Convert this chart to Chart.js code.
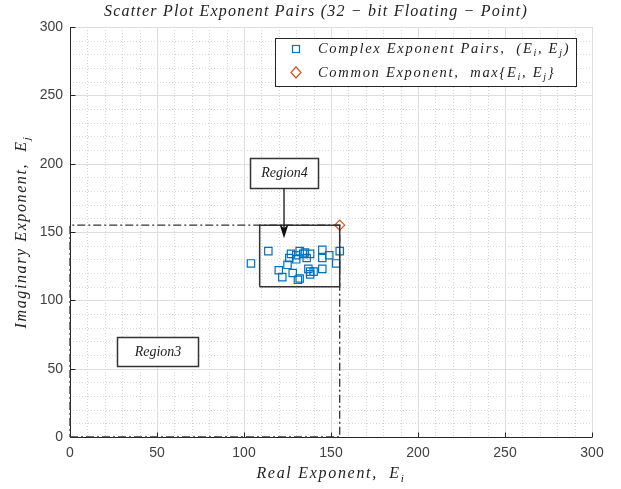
<!DOCTYPE html>
<html>
<head>
<meta charset="utf-8">
<script src="https://cdn.jsdelivr.net/npm/chart.js@4.4.0/dist/chart.umd.min.js"></script>
<style>
body { margin: 0; background: #fff; }
#wrap { width: 621px; height: 489px; }
</style>
</head>
<body>
<div id="wrap"><canvas id="plot" width="621" height="489"></canvas></div>
<script>
// exponent pairs
var realExp = [104, 114, 120, 122, 125, 126, 127, 128, 130, 130, 132, 132, 131, 134, 135, 136, 137, 138, 138, 138, 140, 145, 145, 145, 149, 153, 155];
var imagExp = [127, 136, 122, 117, 126, 131, 134, 120, 133, 130, 136, 116, 115, 134, 135, 131, 123, 121, 134, 119, 121, 137, 131, 123, 133, 127, 136];
var commonReal = [155];
var commonImag = [155];

// region outlines
var region3X = [0, 155, 155, 0, 0];
var region3Y = [0, 0, 155, 155, 0];
var region4X = [109, 155, 155, 109, 109];
var region4Y = [110, 110, 155, 155, 110];

var xTickLabels = [0, 50, 100, 150, 200, 250, 300];
var yTickLabels = [0, 50, 100, 150, 200, 250, 300];

var serif = '"Liberation Serif", "DejaVu Serif", serif';

function toPoints(xs, ys) {
    return xs.map((x, i) => ({ x: x, y: ys[i] }));
}

// latex-ish text: parts = [[text, isSub], ...], sp = extra space per glyph
function drawRich(ctx, parts, x, y, size, align, sp) {
    sp = sp || 0;
    var w = 0;
    parts.forEach(p => {
        ctx.font = 'italic ' + (p[1] ? size * 0.7 : size) + 'px ' + serif;
        for (var ch of p[0]) w += ctx.measureText(ch).width + sp;
    });
    var cx = align === 'center' ? x - w / 2 : x;
    ctx.textAlign = 'left';
    ctx.textBaseline = 'middle';
    parts.forEach(p => {
        ctx.font = 'italic ' + (p[1] ? size * 0.7 : size) + 'px ' + serif;
        for (var ch of p[0]) {
            ctx.fillText(ch, cx, y + (p[1] ? size * 0.3 : 0));
            cx += ctx.measureText(ch).width + sp;
        }
    });
}

function labelBox(ctx, xs, ys, x0, x1, y0, y1, text) {
    var l = Math.round(xs.getPixelForValue(x0)) + 0.5;
    var r = Math.round(xs.getPixelForValue(x1)) + 0.5;
    var t = Math.round(ys.getPixelForValue(y1)) + 0.5;
    var b = Math.round(ys.getPixelForValue(y0)) + 0.5;
    ctx.fillStyle = '#fff';
    ctx.fillRect(l, t, r - l, b - t);
    ctx.strokeStyle = '#333';
    ctx.lineWidth = 1.5;
    ctx.strokeRect(l, t, r - l, b - t);
    ctx.fillStyle = '#222';
    drawRich(ctx, [[text, false]], (l + r) / 2, (t + b) / 2, 14, 'center');
}

var matlabLook = {
    id: 'matlabLook',
    beforeDatasetsDraw(chart) {
        var ctx = chart.ctx, a = chart.chartArea;
        var xs = chart.scales.x, ys = chart.scales.y;
        ctx.save();
        ctx.lineWidth = 1;
        xs.ticks.forEach(t => {
            var px = Math.round(xs.getPixelForValue(t.value)) + 0.5;
            var major = t.value % 50 === 0;
            ctx.strokeStyle = major ? '#dedede' : '#d6d6d6';
            ctx.setLineDash(major ? [] : [1, 2]);
            ctx.beginPath(); ctx.moveTo(px, a.top); ctx.lineTo(px, a.bottom); ctx.stroke();
        });
        ys.ticks.forEach(t => {
            var py = Math.round(ys.getPixelForValue(t.value)) + 0.5;
            var major = t.value % 50 === 0;
            ctx.strokeStyle = major ? '#dedede' : '#d6d6d6';
            ctx.setLineDash(major ? [] : [1, 2]);
            ctx.beginPath(); ctx.moveTo(a.left, py); ctx.lineTo(a.right, py); ctx.stroke();
        });
        ctx.setLineDash([]);
        // axis lines and inward ticks
        ctx.strokeStyle = '#262626';
        var left = Math.round(a.left) + 0.5, bottom = Math.round(a.bottom) + 0.5;
        ctx.beginPath();
        ctx.moveTo(left, a.top); ctx.lineTo(left, bottom); ctx.lineTo(a.right, bottom);
        xTickLabels.forEach(v => {
            var px = Math.round(xs.getPixelForValue(v)) + 0.5;
            ctx.moveTo(px, bottom); ctx.lineTo(px, bottom - 5);
        });
        yTickLabels.forEach(v => {
            var py = Math.round(ys.getPixelForValue(v)) + 0.5;
            ctx.moveTo(left, py); ctx.lineTo(left + 5, py);
        });
        ctx.stroke();
        ctx.restore();
    },
    afterDatasetsDraw(chart) {
        var ctx = chart.ctx;
        var xs = chart.scales.x, ys = chart.scales.y;
        ctx.save();
        labelBox(ctx, xs, ys, 27, 73.5, 52, 73, 'Region3');
        labelBox(ctx, xs, ys, 103.5, 142.5, 182, 204, 'Region4');
        // arrow into region 4
        var ax = xs.getPixelForValue(123);
        var ay0 = ys.getPixelForValue(182), ay1 = ys.getPixelForValue(145.5);
        ctx.strokeStyle = '#111';
        ctx.fillStyle = '#111';
        ctx.lineWidth = 1.3;
        ctx.beginPath(); ctx.moveTo(ax, ay0); ctx.lineTo(ax, ay1 - 8); ctx.stroke();
        ctx.beginPath();
        ctx.moveTo(ax, ay1); ctx.lineTo(ax - 4.5, ay1 - 14); ctx.lineTo(ax, ay1 - 10); ctx.lineTo(ax + 4.5, ay1 - 14);
        ctx.closePath(); ctx.fill();
        ctx.restore();
    },
    afterDraw(chart) {
        var ctx = chart.ctx, a = chart.chartArea;
        var mid = (a.left + a.right) / 2;
        ctx.save();
        ctx.fillStyle = '#222';
        drawRich(ctx, [['Scatter Plot Exponent Pairs (32 \u2212 bit Floating \u2212 Point)', false]], mid - 15, 12, 16, 'center', 1.2);
        drawRich(ctx, [['Real Exponent,  E', false], ['i', true]], mid, 474, 16, 'center', 1.7);
        ctx.translate(22, (a.top + a.bottom) / 2);
        ctx.rotate(-Math.PI / 2);
        drawRich(ctx, [['Imaginary Exponent,  E', false], ['j', true]], 0, 0, 16, 'center', 1.6);
        ctx.restore();

        // legend box
        ctx.save();
        var lx = 275.5, ly = 38.5, lw = 301, lh = 48;
        ctx.fillStyle = '#fff';
        ctx.fillRect(lx, ly, lw, lh);
        ctx.strokeStyle = '#262626';
        ctx.lineWidth = 1;
        ctx.strokeRect(lx, ly, lw, lh);
        ctx.lineWidth = 1.2;
        ctx.strokeStyle = '#0072BD';
        ctx.strokeRect(292.5, 45.5, 7, 7);
        ctx.strokeStyle = '#D95319';
        ctx.beginPath();
        ctx.moveTo(296, 67); ctx.lineTo(301, 72.5); ctx.lineTo(296, 78); ctx.lineTo(291, 72.5); ctx.closePath();
        ctx.stroke();
        ctx.fillStyle = '#222';
        drawRich(ctx, [['Complex Exponent Pairs,  (E', false], ['i', true], [', E', false], ['j', true], [')', false]], 318, 49, 14.5, 'left', 1.7);
        drawRich(ctx, [['Common Exponent,  max{E', false], ['i', true], [', E', false], ['j', true], ['}', false]], 318, 73, 14.5, 'left', 1.7);
        ctx.restore();
    }
};

var ctx = document.getElementById('plot').getContext('2d');
var chart = new Chart(ctx, {
    type: 'scatter',
    data: {
        datasets: [{
            label: 'Region3',
            data: toPoints(region3X, region3Y),
            showLine: true,
            borderColor: '#333',
            borderWidth: 1.3,
            borderDash: [8, 3, 2, 3],
            pointRadius: 0,
            clip: false
        }, {
            label: 'Region4',
            data: toPoints(region4X, region4Y),
            showLine: true,
            borderColor: '#333',
            borderWidth: 1.5,
            pointRadius: 0,
            clip: false
        }, {
            label: 'Complex Exponent Pairs',
            data: toPoints(realExp, imagExp),
            pointStyle: 'rect',
            pointRadius: 5.2,
            borderColor: '#0072BD',
            backgroundColor: 'rgba(0,0,0,0)',
            borderWidth: 1.2
        }, {
            label: 'Common Exponent',
            data: toPoints(commonReal, commonImag),
            pointStyle: 'rectRot',
            pointRadius: 5,
            borderColor: '#D95319',
            backgroundColor: 'rgba(0,0,0,0)',
            borderWidth: 1.2,
            clip: false
        }]
    },
    options: {
        responsive: false,
        animation: false,
        layout: { padding: { top: 27, right: 29, left: 0, bottom: 0 } },
        plugins: {
            legend: { display: false },
            title: { display: false },
            tooltip: { enabled: false }
        },
        scales: {
            x: {
                type: 'linear',
                min: 0,
                max: 300,
                grid: { display: false, drawTicks: false },
                border: { display: false },
                ticks: {
                    stepSize: 10,
                    autoSkip: false,
                    maxRotation: 0,
                    padding: 8,
                    color: '#404040',
                    font: { family: '"Liberation Sans", Arial, sans-serif', size: 14 },
                    callback: v => xTickLabels.includes(v) ? String(v) : ''
                },
                afterFit: s => { s.height = 52; }
            },
            y: {
                type: 'linear',
                min: 0,
                max: 300,
                grid: { display: false, drawTicks: false },
                border: { display: false },
                ticks: {
                    stepSize: 10,
                    autoSkip: false,
                    padding: 7,
                    color: '#404040',
                    font: { family: '"Liberation Sans", Arial, sans-serif', size: 14 },
                    callback: v => yTickLabels.includes(v) ? String(v) : ''
                },
                afterFit: s => { s.width = 70; }
            }
        }
    },
    plugins: [matlabLook]
});
</script>
</body>
</html>
